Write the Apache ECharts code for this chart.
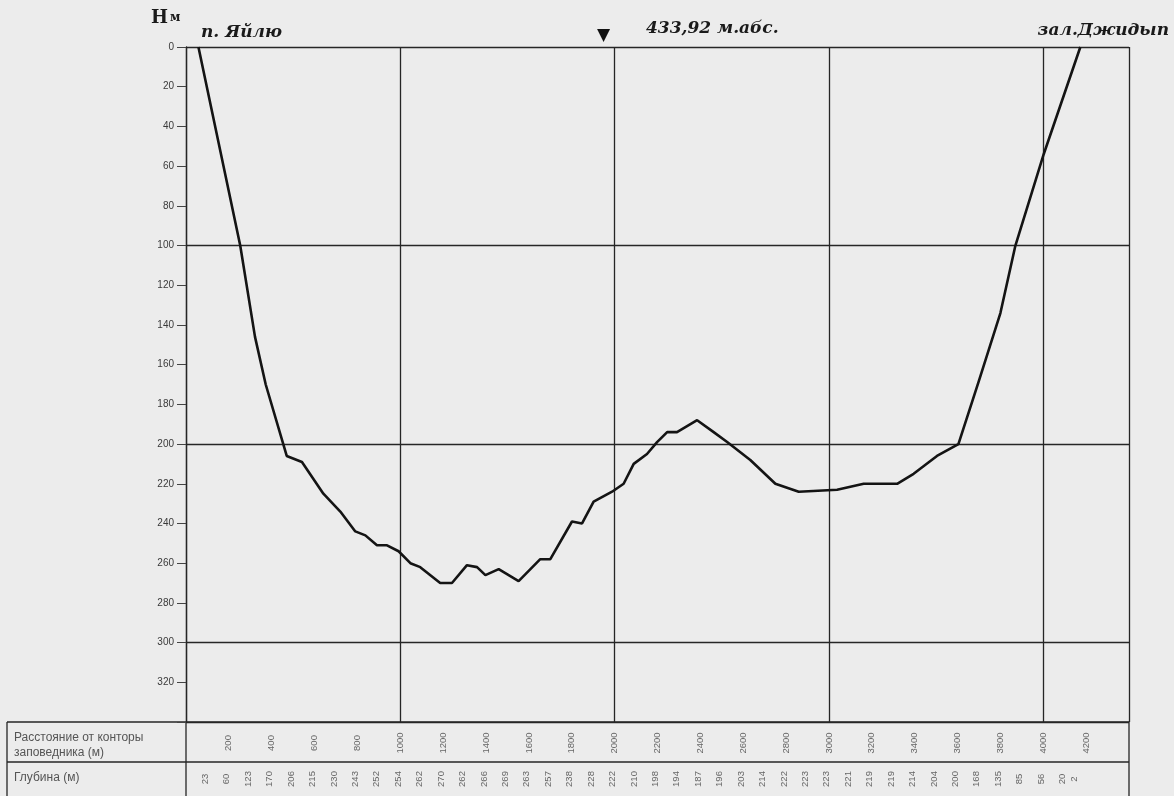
<!DOCTYPE html>
<html><head><meta charset="utf-8">
<script src="https://cdn.jsdelivr.net/npm/echarts@6/dist/echarts.min.js"></script>
<style>html,body{margin:0;padding:0;background:#ececec;}#c{width:1174px;height:796px;}</style>
</head><body><div id="c"></div>
<script>
// Profile curve (distance from office, m ; depth, m)
const profileDist  = [58, 253, 322, 372, 470, 541, 641, 720, 790, 837, 891, 938, 992, 1047, 1093, 1186, 1241, 1311, 1358, 1397, 1459, 1552, 1653, 1700, 1801, 1848, 1902, 1988, 2042, 2089, 2151, 2198, 2245, 2291, 2385, 2462, 2525, 2633, 2750, 2859, 3038, 3162, 3318, 3395, 3504, 3604, 3700, 3800, 3870, 4002, 4173];
const profileDepth = [0, 100, 146, 170, 206, 209, 225, 234, 244, 246, 251, 251, 254, 260, 262, 270, 270, 261, 262, 266, 263, 269, 258, 258, 239, 240, 229, 224, 220, 210, 205, 199, 194, 194, 188, 194, 199, 208, 220, 224, 223, 220, 220, 215, 206, 200, 168, 134, 100, 54, 0];

// Table rows
const distLabels = [200, 400, 600, 800, 1000, 1200, 1400, 1600, 1800, 2000, 2200, 2400, 2600, 2800, 3000, 3200, 3400, 3600, 3800, 4000, 4200];
const depthLabelDist = [90, 190, 290, 390, 490, 590, 690, 790, 890, 990, 1090, 1190, 1290, 1390, 1490, 1590, 1690, 1790, 1890, 1990, 2090, 2190, 2290, 2390, 2490, 2590, 2690, 2790, 2890, 2990, 3090, 3190, 3290, 3390, 3490, 3590, 3690, 3790, 3890, 3990, 4090, 4145];
const depthLabels = [23, 60, 123, 170, 206, 215, 230, 243, 252, 254, 262, 270, 262, 266, 269, 263, 257, 238, 228, 222, 210, 198, 194, 187, 196, 203, 214, 222, 223, 223, 221, 219, 219, 214, 204, 200, 168, 135, 85, 56, 20, 2];

const chart = echarts.init(document.getElementById('c'));
const serifBI = {font:'italic bold 17px "DejaVu Serif"', fill:'#1a1a1a'};
const lineC = '#262626';

chart.setOption({
  backgroundColor:'#ececec',
  animation:false,
  grid:[
    {left:186, right:45, top:47, bottom:74},
    {left:186, right:45, top:722, bottom:0}
  ],
  xAxis:[
    {type:'value', gridIndex:0, min:0, max:4400, interval:1000,
     axisLine:{show:false}, axisTick:{show:false}, axisLabel:{show:false},
     splitLine:{show:true, lineStyle:{color:lineC, width:1.3}}},
    {type:'value', gridIndex:1, min:0, max:4400, show:false}
  ],
  yAxis:[
    {type:'value', gridIndex:0, inverse:true, min:0, max:340, interval:20, position:'left',
     axisLine:{show:true, lineStyle:{color:lineC, width:1.3}},
     axisTick:{show:true, length:9, lineStyle:{color:'#444'}},
     axisLabel:{color:'#3a3a3a', fontSize:10, fontFamily:'Liberation Sans', margin:12,
       formatter:v=> v===340 ? '' : String(v)},
     splitLine:{show:false}},
    {type:'value', gridIndex:0, inverse:true, min:0, max:340, interval:100, position:'right',
     axisLine:{show:false}, axisTick:{show:false}, axisLabel:{show:false},
     splitLine:{show:true, lineStyle:{color:lineC, width:1.3}}},
    {type:'value', gridIndex:1, inverse:true, min:0, max:74, show:false}
  ],
  series:[
    {type:'line', xAxisIndex:0, yAxisIndex:0, symbol:'none', smooth:false,
     data: profileDist.map((d,i)=>[d, profileDepth[i]]),
     lineStyle:{color:'#141414', width:2.6}},
    {type:'scatter', xAxisIndex:1, yAxisIndex:2, symbolSize:0,
     data: distLabels.map(d=>[d, 21]),
     label:{show:true, position:'inside', rotate:90, color:'#444', fontSize:9.5, fontFamily:'Liberation Sans',
       formatter:p=>String(p.value[0])}},
    {type:'scatter', xAxisIndex:1, yAxisIndex:2, symbolSize:0,
     data: depthLabelDist.map((d,i)=>[d, 57, depthLabels[i]]),
     label:{show:true, position:'inside', rotate:90, color:'#444', fontSize:9.5, fontFamily:'Liberation Sans',
       formatter:p=>String(p.value[2])}}
  ],
  graphic:[
    {type:'text', left:151, top:9, style:{text:'Н', font:'bold 18px "DejaVu Serif"', fill:'#1a1a1a'}},
    {type:'text', left:170, top:12, style:{text:'м', font:'bold 12px "DejaVu Serif"', fill:'#1a1a1a'}},
    {type:'text', left:201, top:24, style:Object.assign({text:'п. Яйлю'}, serifBI)},
    {type:'text', left:597, top:27, style:{text:'▼', font:'17px "DejaVu Sans"', fill:'#111'}},
    {type:'text', left:646, top:20, style:Object.assign({text:'433,92 м.абс.'}, serifBI)},
    {type:'text', right:5, top:22, style:Object.assign({text:'зал.Джидып'}, serifBI)},
    // table borders
    {type:'line', shape:{x1:7, y1:722, x2:1129, y2:722}, style:{stroke:lineC, lineWidth:1.3}},
    {type:'line', shape:{x1:7, y1:762, x2:1129, y2:762}, style:{stroke:lineC, lineWidth:1.3}},
    {type:'line', shape:{x1:7, y1:722, x2:7, y2:796}, style:{stroke:lineC, lineWidth:1.3}},
    {type:'line', shape:{x1:186, y1:722, x2:186, y2:796}, style:{stroke:lineC, lineWidth:1.3}},
    {type:'line', shape:{x1:1129, y1:722, x2:1129, y2:796}, style:{stroke:lineC, lineWidth:1.3}},
    {type:'text', left:14, top:730, style:{text:'Расстояние от конторы\nзаповедника (м)', font:'12px "Liberation Sans"', fill:'#555', lineHeight:15}},
    {type:'text', left:14, top:772, style:{text:'Глубина (м)', font:'12px "Liberation Sans"', fill:'#555'}}
  ]
});
</script>
</body></html>
